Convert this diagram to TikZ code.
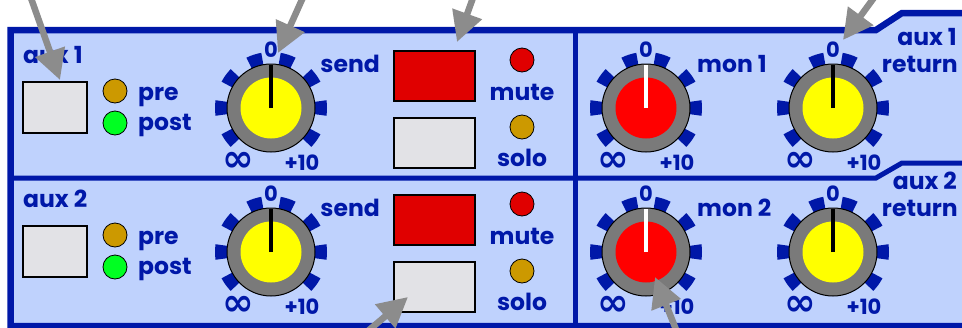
\documentclass[tikz,border=0pt]{standalone}
\usepackage{fontspec}
\setmainfont{Poppins}
\newfontfamily\symfont{DejaVu Sans}
\usetikzlibrary{arrows.meta}
\definecolor{panel}{HTML}{BFD2FD}
\definecolor{pblue}{HTML}{0018A8}
\definecolor{knobgray}{HTML}{7A7A7A}
\definecolor{btngray}{HTML}{E2E2E6}
\definecolor{ledamber}{HTML}{CC9900}
\definecolor{ledgreen}{HTML}{00FF22}
\definecolor{btnred}{HTML}{E00000}
\definecolor{knobred}{HTML}{FF0000}
\definecolor{knobyellow}{HTML}{FFFF00}
\definecolor{arrowgray}{HTML}{8C8C8C}
\tikzset{
  lbl/.style={text=pblue, font=\bfseries\fontsize{23.5}{23.5}\selectfont, inner sep=0pt},
  sml/.style={text=pblue, font=\bfseries\fontsize{21}{21}\selectfont, inner sep=0pt},
  infsym/.style={text=pblue, font=\symfont\bfseries\fontsize{38}{38}\selectfont, inner sep=0pt},
  selbtn/.style={draw=black, line width=1.6pt, fill=btngray, minimum width=64pt, minimum height=51pt, inner sep=0pt},
  bigbtn/.style={draw=black, line width=1.6pt, minimum width=81pt, minimum height=50pt, inner sep=0pt},
  led/.style={circle, draw=black, line width=0.8pt, minimum size=24pt, inner sep=0pt},
  arr/.style={draw=arrowgray, line width=6.5pt, -{Triangle[length=30pt,width=30pt]}},
  pics/knob/.style n args={2}{code={
    \foreach \a in {-36,0,36,72,108,144,180,216}
      \fill[pblue] ({\a-8}:43) arc[start angle={\a-8}, end angle={\a+8}, radius=43]
        -- ({\a+8}:56) arc[start angle={\a+8}, end angle={\a-8}, radius=56] -- cycle;
    \draw[fill=knobgray, line width=1pt] (0,0) circle[radius=44];
    \fill[#1] (0,0) circle[radius=30.5];
    \draw[#2, line width=4pt] (0,0) -- (0,43);
    \node[sml, anchor=base] (-zero) at (0,51) {0};
    \node[infsym, anchor=center] (-inf) at (-33,-54) {∞};
    \node[sml, anchor=base] (-ten) at (31,-62) {+10};
  }}
}
\begin{document}
\begin{tikzpicture}[x=1pt,y=1pt]
\useasboundingbox (0,0) rectangle (962,-327);
% panel
\fill[panel] (10,-30) -- (876,-30) -- (902,-13) -- (975,-13) -- (975,-340) -- (10,-340) -- cycle;
\draw[pblue, line width=5pt] (10,-178) -- (876,-178) -- (902,-163) -- (975,-163);
\draw[pblue, line width=5pt] (575,-30) -- (575,-330);
\draw[pblue, line width=6.5pt, miter limit=10] (975,-13) -- (902,-13) -- (876,-30) -- (10.5,-30) -- (10.5,-326) -- (975,-326);

\foreach \r/\dy in {1/0,2/-144} {
\begin{scope}[yshift=\dy pt]
  \node[lbl, anchor=base west] (auxlbl\r) at (23,-63) {aux \r};
  \node[selbtn] (sel\r) at (55,-107.5) {};
  \node[led, fill=ledamber] (preled\r) at (115,-91) {};
  \node[led, fill=ledgreen] (postled\r) at (115,-123) {};
  \node[lbl, anchor=base west] (pretxt\r) at (138,-100) {pre};
  \node[lbl, anchor=base west] (posttxt\r) at (138,-130) {post};
  \pic (send\r) at (271,-108) {knob={knobyellow}{black}};
  \node[lbl, anchor=base east] (sendtxt\r) at (380,-72) {send};
  \node[bigbtn, fill=btnred] (mute\r) at (434.5,-76) {};
  \node[bigbtn, fill=btngray] (solo\r) at (434.5,-143) {};
  \node[led, fill=btnred] (muteled\r) at (522,-60) {};
  \node[lbl, anchor=base] (mutetxt\r) at (522,-100) {mute};
  \node[led, fill=ledamber] (sololed\r) at (522,-127) {};
  \node[lbl, anchor=base] (solotxt\r) at (522,-166) {solo};
  \pic (mon\r) at (646,-108) {knob={knobred}{white}};
  \node[lbl, anchor=base west] (montxt\r) at (697,-72) {mon \r};
  \pic (ret\r) at (833,-108) {knob={knobyellow}{black}};
  \node[lbl, anchor=base east] (retaux\r) at (957,-45) {aux \r};
  \node[lbl, anchor=base east] (rettxt\r) at (958,-72) {return};
\end{scope}
}

% pointer arrows
\coordinate (a1from) at (26,16);   \coordinate (a1to) at (60,-80);
\coordinate (a2from) at (309,16);  \coordinate (a2to) at (278,-53);
\coordinate (a3from) at (478,16);  \coordinate (a3to) at (457,-42);
\coordinate (a4from) at (884,16);  \coordinate (a4to) at (843,-40);
\coordinate (a5from) at (355,-342); \coordinate (a5to) at (408,-297);
\coordinate (a6from) at (681,-342); \coordinate (a6to) at (655,-277);
\foreach \i in {1,...,6} \draw[arr] (a\i from) -- (a\i to);
\end{tikzpicture}
\end{document}
